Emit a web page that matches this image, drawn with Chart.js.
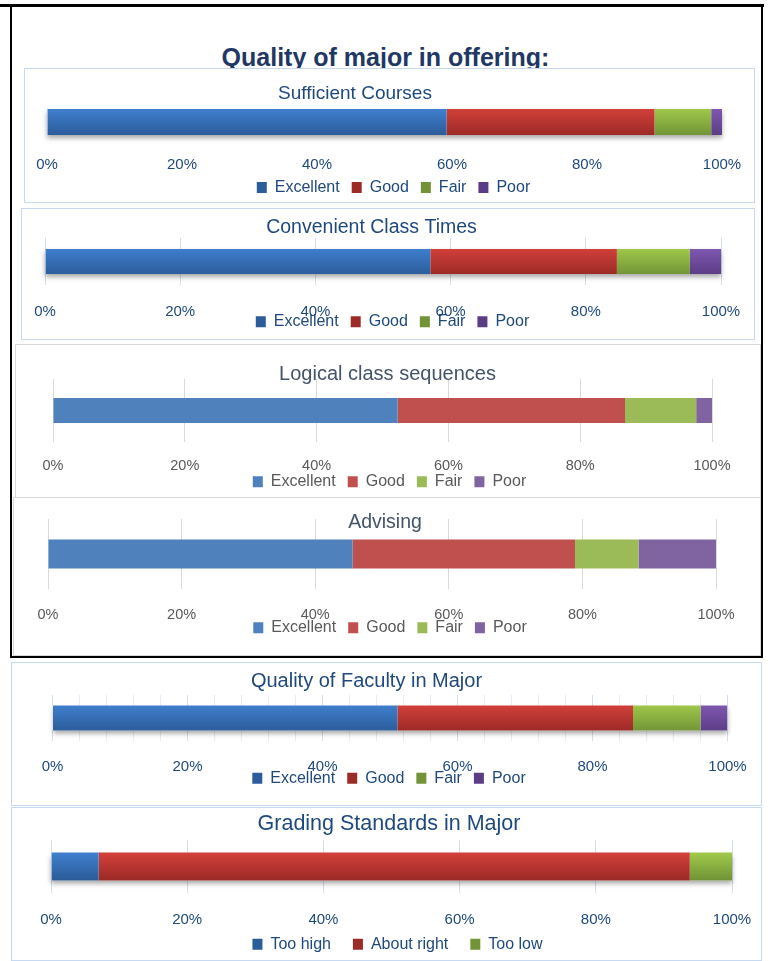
<!DOCTYPE html>
<html>
<head>
<meta charset="utf-8">
<title>Quality of major in offering</title>
<script src="https://cdn.jsdelivr.net/npm/chart.js@4.4.1/dist/chart.umd.min.js"></script>
<style>
  html, body { margin: 0; padding: 0; background: #fff; }
  #page { position: relative; width: 769px; height: 961px; overflow: hidden; font-family: "Liberation Sans", Arial, sans-serif; }
  .rule { position: absolute; background: #000; z-index: 3; }
  #heading { position: absolute; left: 0; width: 771px; top: 42px; line-height: 30px; text-align: center;
             font-weight: bold; font-size: 25px; color: #1F3864; z-index: 1; white-space: nowrap; }
  .panel { position: absolute; box-sizing: border-box; background: #fff; border: 1px solid #C6D9F1; z-index: 2; }
  .panel canvas { display: block; }
</style>
</head>
<body>
<div id="page">
  <div id="heading">Quality of major in offering:</div>
  <div class="rule" style="left:0;top:4px;width:764px;height:3px"></div>
  <div class="rule" style="left:10px;top:5px;width:2px;height:653px"></div>
  <div class="rule" style="left:761px;top:5px;width:2px;height:653px"></div>
  <div class="rule" style="left:10px;top:656px;width:753px;height:2px"></div>
</div>
<script>
// answer categories
const ratingLabels = ['Excellent', 'Good', 'Fair', 'Poor'];
const gradingLabels = ['Too high', 'About right', 'Too low'];
const percentTicks = [0, 20, 40, 60, 80, 100];

// share of answers, in percent
const sufficientCourses = [59.2, 30.8, 8.4, 1.6];
const convenientTimes = [57.0, 27.6, 10.8, 4.6];
const logicalSequences = [52.3, 34.5, 10.8, 2.4];
const advising = [45.6, 33.3, 9.5, 11.6];
const facultyQuality = [51.1, 34.9, 10.0, 4.0];
const gradingStandards = [7.0, 86.8, 6.2];

// colours: glossy (top, bottom) pairs and flat office colours
const glossy = [['#3F7FCE', '#2C5C9A'], ['#D2403A', '#9C2A26'], ['#9FC84A', '#729437'], ['#7F57B0', '#5B3D86']];
const flat = ['#4F81BD', '#C0504D', '#9BBB59', '#8064A2'];

// panel geometry in page pixels: box [left, top, width, height], area [left, top, right, bottom], bar [top, bottom]
const panels = [
    { title: 'Sufficient Courses', labels: ratingLabels, values: sufficientCourses, style: 'glossy', grid: 'none',
      box: [24, 68, 731, 135], area: [47, 98, 722, 146], bar: [109, 135],
      titleX: 355, titleY: 93.5, titleSize: 19, tickY: 163.3, legendX: 393.5, legendY: 186.5, legendGap: 12 },
    { title: 'Convenient Class Times', labels: ratingLabels, values: convenientTimes, style: 'glossy', grid: 'major',
      box: [21, 208, 734, 132], area: [45, 238, 721, 285], bar: [250, 275],
      titleX: 371.5, titleY: 228, titleSize: 19.5, tickY: 310, legendX: 392.5, legendY: 320.7, legendGap: 12 },
    { title: 'Logical class sequences', labels: ratingLabels, values: logicalSequences, style: 'flat', grid: 'major',
      box: [15, 344, 746, 154], area: [53, 379, 712, 442], bar: [398, 423],
      titleX: 387.5, titleY: 374.5, titleSize: 20, tickY: 464.3, legendX: 389.5, legendY: 480.7, legendGap: 12 },
    { title: 'Advising', labels: ratingLabels, values: advising, style: 'flat', grid: 'major',
      box: [13, 497, 748, 159], area: [48, 519, 716, 589], bar: [540, 569],
      titleX: 385, titleY: 522.2, titleSize: 19.5, tickY: 613, legendX: 390, legendY: 626.7, legendGap: 12 },
    { title: 'Quality of Faculty in Major', labels: ratingLabels, values: facultyQuality, style: 'glossy', grid: 'minor',
      box: [11, 662, 751, 144], area: [52.5, 695, 727.5, 741], bar: [706, 731],
      titleX: 366.5, titleY: 681.2, titleSize: 20, tickY: 765, legendX: 389, legendY: 777.3, legendGap: 12 },
    { title: 'Grading Standards in Major', labels: gradingLabels, values: gradingStandards, style: 'glossy', grid: 'major',
      box: [11, 807, 751, 154], area: [51, 840, 732, 893], bar: [852, 880],
      titleX: 389, titleY: 823.8, titleSize: 21.5, tickY: 917.7, legendX: 397.5, legendY: 943.3, legendGap: 22 },
];

Chart.defaults.font.family = '"Liberation Sans", Arial, sans-serif';
Chart.defaults.animation = false;

function shade(pair) {
    return (ctx) => {
        const area = ctx.chart.chartArea;
        if (!area) {
            return pair[1];
        }
        const mid = (area.top + area.bottom) / 2;
        const g = ctx.chart.ctx.createLinearGradient(0, mid - 13, 0, mid + 13);
        g.addColorStop(0, pair[0]);
        g.addColorStop(1, pair[1]);
        return g;
    };
}

const barShadow = {
    id: 'barShadow',
    beforeDatasetsDraw(chart) {
        const el = chart.getDatasetMeta(0).data[0];
        if (!el) {
            return;
        }
        const x0 = chart.scales.x.getPixelForValue(0);
        const x1 = chart.scales.x.getPixelForValue(100);
        const { y, height } = el.getProps(['y', 'height'], true);
        const ctx = chart.ctx;
        ctx.save();
        ctx.shadowColor = 'rgba(0, 0, 0, 0.35)';
        ctx.shadowBlur = 5;
        ctx.shadowOffsetY = 3;
        ctx.fillStyle = '#fff';
        ctx.fillRect(x0, y - height / 2, x1 - x0, height);
        ctx.restore();
    },
};

// moves title and legend to where the reference has them
function placement(p, cx, cy) {
    return {
        id: 'placement',
        afterLayout(chart) {
            const t = chart.titleBlock;
            if (t) {
                const dx = (p.titleX - cx) - (t.left + t.right) / 2;
                t.left += dx;
                t.right += dx;
            }
            const lg = chart.legend;
            if (lg) {
                const dx = (p.legendX - cx) - (lg.left + lg.right) / 2;
                lg.left += dx;
                lg.right += dx;
                const pad = lg.options.labels.padding;
                const h = pad + 16 + 10;
                const top = (p.legendY - cy) - pad - 8 + 1;
                lg.top = top;
                lg.bottom = top + h;
                lg.height = h;
            }
        },
    };
}

function buildPanel(p) {
    const page = document.getElementById('page');
    const [bx, by, bw, bh] = p.box;
    const isGlossy = p.style === 'glossy';
    const wrap = document.createElement('div');
    wrap.className = 'panel';
    wrap.style.left = bx + 'px';
    wrap.style.top = by + 'px';
    wrap.style.width = bw + 'px';
    wrap.style.height = bh + 'px';
    wrap.style.borderColor = isGlossy ? '#C6D9F1' : '#D9D9D9';
    const canvas = document.createElement('canvas');
    const cx = bx + 1, cy = by + 1, cw = bw - 2, ch = bh - 2;
    canvas.width = cw;
    canvas.height = ch;
    wrap.appendChild(canvas);
    page.appendChild(wrap);

    const [al, at, ar, ab] = p.area;
    const lh = p.titleSize * 1.2;
    const textColor = isGlossy ? '#1F497D' : '#595959';
    const titleColor = isGlossy ? '#1F497D' : '#44546A';
    const tickSize = isGlossy ? 15 : 14.5;
    const gridColor = (c) => {
        if (p.grid === 'none') {
            return 'rgba(0,0,0,0)';
        }
        if (!isGlossy) {
            return '#D9D9D9';
        }
        if (p.grid === 'minor' && c.tick && c.tick.value % 20 !== 0) {
            return '#E6ECF5';
        }
        return '#D3DEEC';
    };

    const plugins = [placement(p, cx, cy)];
    if (isGlossy) {
        plugins.push(barShadow);
    }

    return new Chart(canvas, {
        type: 'bar',
        data: {
            labels: [p.title],
            datasets: p.labels.map((name, i) => ({
                label: name,
                data: [p.values[i]],
                backgroundColor: isGlossy ? shade(glossy[i]) : flat[i],
                borderWidth: 0,
                categoryPercentage: 1,
                barPercentage: (p.bar[1] - p.bar[0]) / (ab - at),
            })),
        },
        options: {
            indexAxis: 'y',
            responsive: false,
            events: [],
            layout: { padding: { left: al - cx, right: cx + cw - ar, top: 0, bottom: 0 } },
            plugins: {
                title: {
                    display: true,
                    text: p.title,
                    color: titleColor,
                    font: { size: p.titleSize, weight: 'normal' },
                    padding: { top: p.titleY - cy - lh / 2, bottom: at - p.titleY - lh / 2 },
                },
                legend: {
                    position: 'bottom',
                    maxHeight: 1,
                    labels: {
                        color: textColor,
                        font: { size: 16 },
                        boxWidth: 10,
                        boxHeight: 11,
                        padding: p.legendGap,
                    },
                },
                tooltip: { enabled: false },
            },
            scales: {
                x: {
                    stacked: true,
                    min: 0,
                    max: 100,
                    border: { display: false },
                    grid: { color: gridColor, drawTicks: false, lineWidth: 1 },
                    ticks: {
                        stepSize: p.grid === 'minor' ? 4 : 20,
                        autoSkip: false,
                        maxRotation: 0,
                        color: textColor,
                        font: { size: tickSize },
                        padding: p.tickY - ab - tickSize * 0.6 + 2,
                        callback: (v) => (percentTicks.includes(v) ? v + '%' : ''),
                    },
                    afterFit(scale) {
                        const legendH = scale.chart.legend ? scale.chart.legend.height : 0;
                        scale.height = Math.max(0, ch - (ab - cy) - legendH);
                        scale.paddingLeft = 0;
                        scale.paddingRight = 0;
                    },
                },
                y: { stacked: true, display: false },
            },
        },
        plugins,
    });
}

panels.forEach(buildPanel);
</script>
</body>
</html>
